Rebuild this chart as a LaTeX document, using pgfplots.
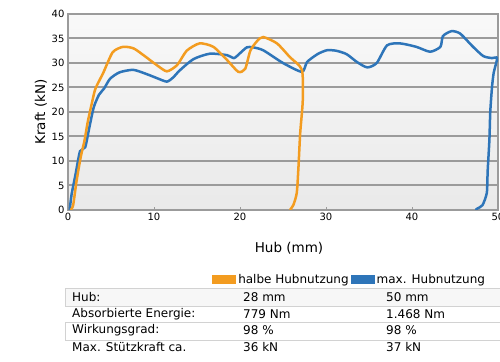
\documentclass[border=0pt]{standalone}
\usepackage{pgfplots}
\pgfplotsset{compat=1.18}
\usepackage{fontspec}
\setmainfont{DejaVu Sans}
\definecolor{corange}{RGB}{243,156,32}
\definecolor{cblue}{RGB}{46,117,185}
\definecolor{cgrid}{RGB}{155,155,155}
\begin{document}
\begin{tikzpicture}[x=1pt,y=1pt]
\useasboundingbox (0,0) rectangle (500,361);
\begin{axis}[
  at={(68pt,151pt)}, anchor=south west,
  width=430pt, height=196pt, scale only axis,
  xmin=0, xmax=50, ymin=0, ymax=40,
  xtick={0,10,...,50}, ytick={0,5,...,40},
  ymajorgrids,
  grid style={cgrid, line width=2pt},
  axis line style={cgrid, line width=1.8pt},
  axis background/.style={top color=gray!5, bottom color=gray!17},
  xtick pos=bottom, ytick pos=left,
  ytick style={draw=none},
  xtick style={cgrid, line width=0.8pt},
  major tick length=3pt,
  tick label style={font=\fontsize{10}{12}\selectfont},
  /pgf/number format/assume math mode=true,
  xlabel={Hub (mm)}, ylabel={Kraft (kN)},
  label style={font=\fontsize{13.5}{15}\selectfont},
  xlabel style={yshift=-14pt, xshift=6pt},
  ylabel style={yshift=-2pt},
  legend columns=2,
  legend style={draw=none, fill=none, at={(axis description cs:0.335,-0.357)}, anchor=west,
    font=\fontsize{12}{14}\selectfont, inner sep=0pt,
    /tikz/every even column/.append style={column sep=0pt}},
  legend image code/.code={\fill[#1] (0pt,-4pt) rectangle (24pt,5pt);},
]
\addlegendimage{fill=corange, draw=none}
\addlegendentry{halbe Hubnutzung}
\addlegendimage{fill=cblue, draw=none}
\addlegendentry{max. Hubnutzung}
\addplot[cblue, line width=2.5pt, smooth, tension=0.4, forget plot] coordinates {
(0.2,0) (0.4,3) (0.9,7.5) (1.4,12) (2.0,12.8) (2.5,17) (3.0,21) (3.6,23.5) (4.2,24.8) (4.9,26.8) (6.0,28.1) (7.6,28.6) (9.2,27.7) (10.5,26.8) (11.5,26.2) (12.2,27) (13,28.5) (14.6,30.8) (16.5,31.9) (18.5,31.6) (19.3,31) (20.0,32) (20.8,33.2) (21.5,33.2) (22.7,32.6) (25,30) (27.2,28.2) (27.8,30.2) (29,31.8) (30.1,32.6) (31.2,32.5) (32.4,31.8) (33.6,30.2) (34.8,29.1) (35.9,30) (37.1,33.6) (38.6,34) (40.5,33.3) (42.1,32.3) (43.3,33.3) (43.6,35.5) (44.6,36.5) (45.6,36) (47.1,33.3) (48.3,31.4) (49.3,31) (49.9,31) (49.5,28) (49.3,25) (49.1,20) (49.0,14.3) (48.8,8) (48.7,3.5) (48.2,1) (47.6,0.3) (47.4,0)
};
\addplot[corange, line width=2.5pt, smooth, tension=0.4, forget plot] coordinates {
(0.3,0) (0.6,1) (1.0,6) (1.5,11) (1.9,14) (2.3,18) (2.8,22) (3.2,24.8) (4.1,28) (5.2,32.2) (6.4,33.3) (7.6,33) (8.7,31.7) (10.3,29.6) (11.5,28.3) (12.7,29.6) (13.8,32.5) (15.3,34) (16.9,33.3) (18.5,30.6) (19.8,28.2) (20.6,28.8) (21.2,32.5) (22.0,34.5) (22.7,35.3) (24.3,34) (25.8,31.2) (27.2,28.6) (27.3,22.4) (27.0,15.7) (26.8,8.8) (26.6,3.5) (26.2,1) (25.8,0)
};
\end{axis}
% table
\fill[gray!6] (65,55) rectangle (500,73);
\draw[gray!35, line width=0.8pt] (65,55) rectangle (500,73);
\draw[gray!35, line width=0.8pt] (65,21) rectangle (500,39);
\begin{scope}[every node/.style={anchor=west, inner sep=0pt, font=\fontsize{12}{14}\selectfont}]
\node at (72,64) {Hub:};
\node at (243,64) {28 mm};
\node at (386,64) {50 mm};
\node at (72,47) {Absorbierte Energie:};
\node at (243,47) {779 Nm};
\node at (386,47) {1.468 Nm};
\node at (72,30.5) {Wirkungsgrad:};
\node at (243,30.5) {98 \%};
\node at (386,30.5) {98 \%};
\node at (72,14) {Max. Stützkraft ca.};
\node at (243,14) {36 kN};
\node at (386,14) {37 kN};
\end{scope}
\end{tikzpicture}
\end{document}
